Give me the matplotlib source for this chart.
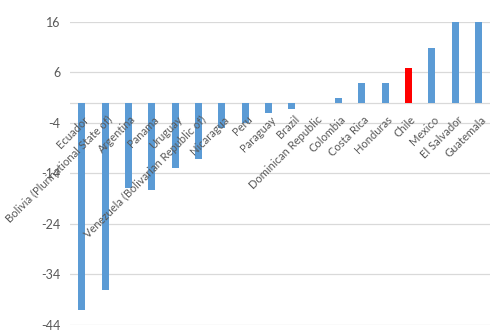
import matplotlib.pyplot as plt

countries = ["Ecuador", "Bolivia (Plurinational State of)", "Argentina", "Panama",
             "Uruguay", "Venezuela (Bolivarian Republic of)", "Nicaragua", "Peru",
             "Paraguay", "Brazil", "Dominican Republic", "Colombia", "Costa Rica",
             "Honduras", "Chile", "Mexico", "El Salvador", "Guatemala"]
values = [-41.0, -37.1, -16.8, -17.2, -13.0, -11.2, -5.1, -4.0,
          -2.0, -1.2, 0.0, 0.85, 3.9, 3.9, 6.8, 10.8, 16.0, 16.0]
highlight = "Chile"
yticks = [16, 6, -4, -14, -24, -34, -44]

blue = "#5B9BD5"
red = "#FF0000"
grey = "#595959"

plt.rcParams["font.family"] = ["Lato", "DejaVu Sans"]

colors = [red if c == highlight else blue for c in countries]

fig = plt.figure(figsize=(5, 3.36), dpi=100)
ax = fig.add_axes([0.14, 0.033, 0.84, 0.902])

ax.bar(range(len(countries)), values, width=0.3, color=colors, zorder=3)
ax.axhline(0, color="#D9D9D9", lw=0.9, zorder=2)

ax.set_ylim(-44, 16)
ax.set_xlim(-0.5, len(countries) - 0.5)
ax.set_yticks(yticks)
ax.set_yticklabels([str(t) for t in yticks])
ax.yaxis.grid(True, color="#D9D9D9", lw=0.9)
ax.set_axisbelow(True)
ax.set_xticks([])
ax.tick_params(axis="y", length=0, pad=7, labelsize=9, labelcolor=grey)
for s in ax.spines.values():
    s.set_visible(False)

for i, c in enumerate(countries):
    ax.text(i + 0.08, -2.2, c, rotation=45, rotation_mode="anchor",
            ha="right", va="top", fontsize=8, color=grey, zorder=4)

fig.savefig("out.png", dpi=100)
